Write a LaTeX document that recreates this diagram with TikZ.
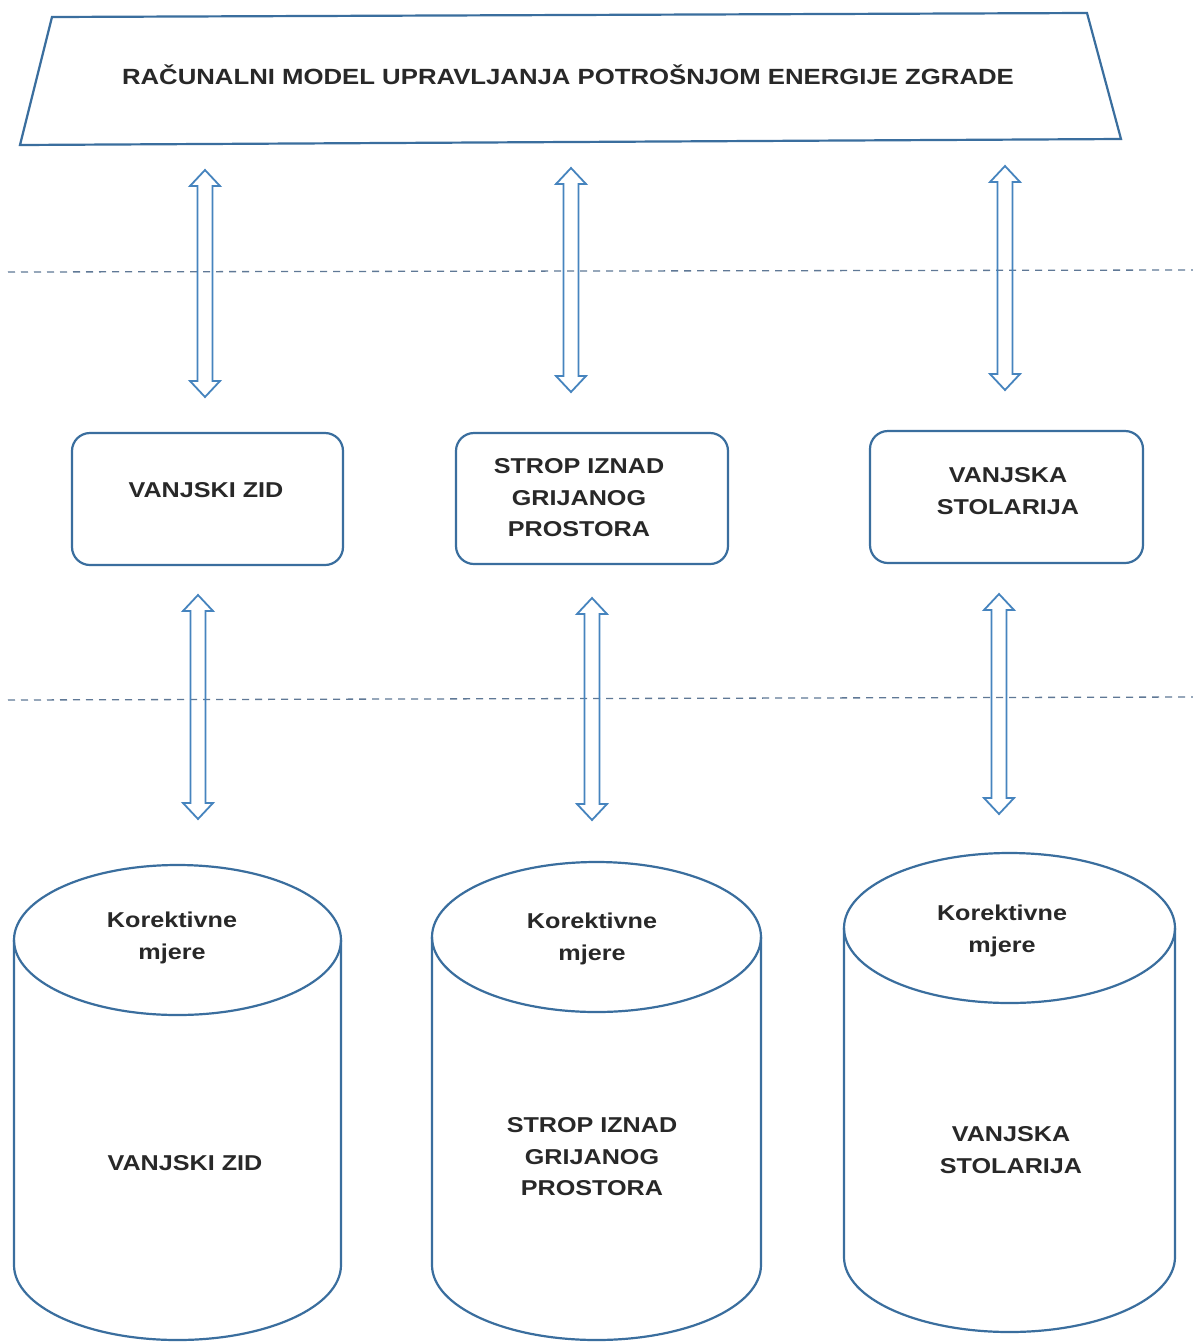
\documentclass[tikz,border=0pt]{standalone}
\usepackage{fontspec}
\setmainfont{Liberation Sans}[FakeStretch=1.17]
\usetikzlibrary{calc}
\definecolor{edge}{RGB}{58,110,158}
\definecolor{arrc}{RGB}{70,132,190}
\definecolor{dashc}{RGB}{95,120,150}
\definecolor{ink}{RGB}{40,40,40}
\tikzset{
  outl/.style={draw=edge, line width=2.2pt},
  arrline/.style={draw=arrc, line width=1.8pt, line join=miter},
  sepline/.style={draw=dashc, line width=1.3pt, dash pattern=on 7pt off 6pt},
  boxnode/.style={outl, rounded corners=18pt, inner sep=0pt},
  lbl/.style={font=\fontsize{21.5}{31.5}\selectfont\bfseries, text=ink, align=center, inner sep=0pt},
}
\newcommand\harrow[2]{%
  \draw[arrline] let \p1=(#1), \p2=(#2) in
    (\x1,\y1) -- (\x1-15pt,\y1-16pt) -- (\x1-7.5pt,\y1-16pt) -- (\x1-7.5pt,\y2+16pt)
    -- (\x1-15pt,\y2+16pt) -- (\x1,\y2) -- (\x1+15pt,\y2+16pt) -- (\x1+7.5pt,\y2+16pt)
    -- (\x1+7.5pt,\y1-16pt) -- (\x1+15pt,\y1-16pt) -- cycle;}
\begin{document}
\begin{tikzpicture}[x=1pt,y=-1pt]
\useasboundingbox[fill=white] (0,0) rectangle (1193,1342);

% title trapezoid
\draw[outl, line join=miter] (52,17) -- (1087,13) -- (1121,139) -- (20,145) -- cycle;
\node[lbl, font=\fontsize{22}{31.5}\selectfont\bfseries] (title) at (568,75) {RAČUNALNI MODEL UPRAVLJANJA POTROŠNJOM ENERGIJE ZGRADE};

% separator lines
\coordinate (s1a) at (8,272);  \coordinate (s1b) at (1193,270);
\coordinate (s2a) at (8,700);  \coordinate (s2b) at (1193,697);
\draw[sepline] (s1a) -- (s1b);
\draw[sepline] (s2a) -- (s2b);

% middle boxes
\node[boxnode, minimum width=271pt, minimum height=132pt] (b1) at (207.5,499) {};
\node[boxnode, minimum width=272pt, minimum height=131pt] (b2) at (592,498.5) {};
\node[boxnode, minimum width=273pt, minimum height=132pt] (b3) at (1006.5,497) {};
\node[lbl] (t1) at (206,490) {VANJSKI ZID};
\node[lbl] (t2) at (579,498) {STROP IZNAD\\GRIJANOG\\PROSTORA};
\node[lbl] (t3) at (1008,491) {VANJSKA\\STOLARIJA};

% cylinders
\draw[outl] (14,940) -- (14,1265) arc[start angle=180, end angle=360, x radius=163.5pt, y radius=75pt] -- (341,940);
\draw[outl] (177.5,940) ellipse[x radius=163.5pt, y radius=75pt];
\draw[outl] (432,937) -- (432,1265) arc[start angle=180, end angle=360, x radius=164.5pt, y radius=75pt] -- (761,937);
\draw[outl] (596.5,937) ellipse[x radius=164.5pt, y radius=75pt];
\draw[outl] (844,928) -- (844,1257) arc[start angle=180, end angle=360, x radius=165.5pt, y radius=75pt] -- (1175,928);
\draw[outl] (1009.5,928) ellipse[x radius=165.5pt, y radius=75pt];

\node[lbl] (k1) at (172,938) {Korektivne\\mjere};
\node[lbl] (k2) at (592,939) {Korektivne\\mjere};
\node[lbl] (k3) at (1002,931) {Korektivne\\mjere};
\node[lbl] (c1) at (185,1163) {VANJSKI ZID};
\node[lbl] (c2) at (592,1157) {STROP IZNAD\\GRIJANOG\\PROSTORA};
\node[lbl] (c3) at (1011,1150) {VANJSKA\\STOLARIJA};

% arrow end points
\coordinate (a1t) at (205,170);  \coordinate (a1b) at (205,397);
\coordinate (a2t) at (571,168);  \coordinate (a2b) at (571,392);
\coordinate (a3t) at (1005,166); \coordinate (a3b) at (1005,390);
\coordinate (d1t) at (198,595);  \coordinate (d1b) at (198,819);
\coordinate (d2t) at (592,598);  \coordinate (d2b) at (592,820);
\coordinate (d3t) at (999,594);  \coordinate (d3b) at (999,814);
\harrow{a1t}{a1b}
\harrow{a2t}{a2b}
\harrow{a3t}{a3b}
\harrow{d1t}{d1b}
\harrow{d2t}{d2b}
\harrow{d3t}{d3b}
\end{tikzpicture}
\end{document}
